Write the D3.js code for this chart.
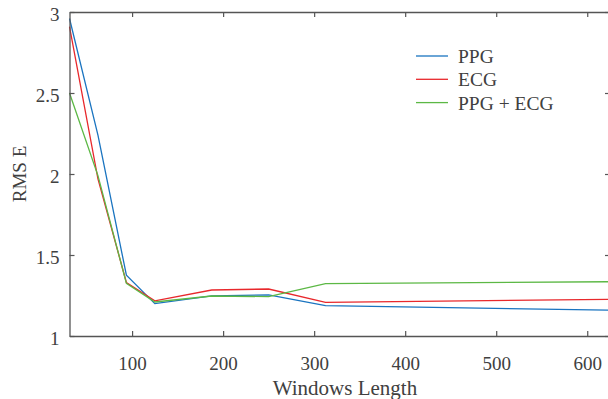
<!DOCTYPE html>
<html>
<head>
<meta charset="utf-8">
<script src="https://cdn.jsdelivr.net/npm/d3@7"></script>
<style>
  body { margin: 0; background: #fff; }
  svg text { font-family: "Liberation Serif", "DejaVu Serif", serif; fill: #404040; }
</style>
</head>
<body>
<script>
// window lengths (x values)
const windows = [31.25, 62.5, 93.75, 125, 187.5, 250, 312.5, 625];
// RMS error per signal
const ppg  = [2.96, 2.24, 1.375, 1.200, 1.248, 1.254, 1.187, 1.159];
const ecg  = [2.91, 1.97, 1.330, 1.217, 1.284, 1.290, 1.208, 1.226];
const both = [2.50, 1.99, 1.325, 1.210, 1.247, 1.243, 1.323, 1.335];
const seriesNames = ["PPG", "ECG", "PPG + ECG"];
const xTicks = [100, 200, 300, 400, 500, 600];
const yTicks = [1, 1.5, 2, 2.5, 3];

const w = 608, h = 399;
const plotL = 69.5, plotR = 610, plotT = 12, plotB = 336;
const colors = ["#1a74c0", "#e8282c", "#5cb845"];

const svg = d3.select("body").append("svg")
    .attr("width", w)
    .attr("height", h);

const x = d3.scaleLinear().domain([31.25, 625]).range([plotL, plotR]);
const y = d3.scaleLinear().domain([1, 3]).range([plotB, plotT]);

// lines
const allSeries = [ppg, ecg, both];
const line = d3.line()
    .x((d, i) => x(windows[i]))
    .y(d => y(d));

allSeries.forEach(function(s, k) {
    svg.append("path")
        .datum(s)
        .attr("fill", "none")
        .attr("stroke", colors[k])
        .attr("stroke-width", 1.3)
        .attr("stroke-linejoin", "miter")
        .attr("d", line);
});

// axes (box, ticks inward)
const axColor = "#555";
function styleAxis(g) {
    g.select(".domain").attr("stroke", axColor).attr("stroke-width", 1.3);
    g.selectAll(".tick line").attr("stroke", axColor).attr("stroke-width", 1.2);
    g.selectAll(".tick text")
        .attr("font-size", 19)
        .attr("fill", "#404040")
        .style("font-family", "Liberation Serif, serif");
}

const xAxis = svg.append("g")
    .attr("transform", "translate(0," + plotB + ")")
    .call(d3.axisBottom(x).tickValues(xTicks).tickSize(-5).tickSizeOuter(0).tickPadding(21));
styleAxis(xAxis);

const xTop = svg.append("g")
    .attr("transform", "translate(0," + plotT + ")")
    .call(d3.axisTop(x).tickValues(xTicks).tickSize(-5).tickSizeOuter(0).tickFormat(""));
styleAxis(xTop);

const yAxis = svg.append("g")
    .attr("transform", "translate(" + plotL + ",0)")
    .call(d3.axisLeft(y).tickValues(yTicks).tickSize(-5).tickSizeOuter(0).tickPadding(10).tickFormat(d3.format("")));
styleAxis(yAxis);
yAxis.selectAll(".tick text").attr("dy", "0.45em");

const yRight = svg.append("g")
    .attr("transform", "translate(" + plotR + ",0)")
    .call(d3.axisRight(y).tickValues(yTicks).tickSize(-5).tickSizeOuter(0).tickFormat(""));
styleAxis(yRight);

// axis titles
svg.append("text")
    .attr("x", 345)
    .attr("y", 395)
    .attr("text-anchor", "middle")
    .attr("font-size", 21)
    .text("Windows Length");

svg.append("text")
    .attr("transform", "translate(26," + ((plotT + plotB) / 2) + ") rotate(-90)")
    .attr("text-anchor", "middle")
    .attr("font-size", 19)
    .text("RMS E");

// legend
const legend = svg.append("g").attr("transform", "translate(416,56)");
seriesNames.forEach(function(name, k) {
    legend.append("line")
        .attr("x1", 0).attr("x2", 32)
        .attr("y1", k * 23.3).attr("y2", k * 23.3)
        .attr("stroke", colors[k])
        .attr("stroke-width", 1.3);
    legend.append("text")
        .attr("x", 42)
        .attr("y", k * 23.3 + 7)
        .attr("font-size", 19.5)
        .text(name);
});
</script>
</body>
</html>
